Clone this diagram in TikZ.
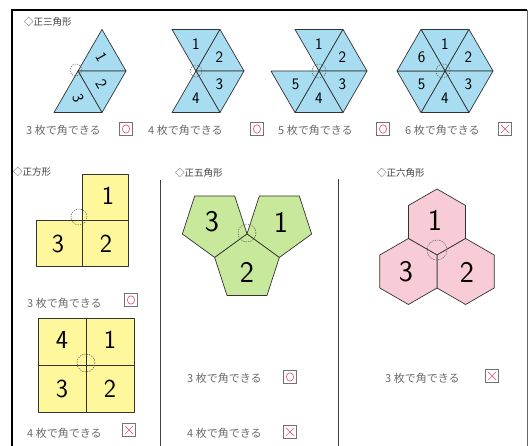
\documentclass[tikz,border=0pt]{standalone}
\usepackage{fontspec}
\newfontfamily\jp{Noto Sans CJK JP}
\usetikzlibrary{calc}
\definecolor{triblue}{HTML}{A8DCF0}
\definecolor{sqyellow}{HTML}{FFF79C}
\definecolor{pentgreen}{HTML}{C8E89C}
\definecolor{hexpink}{HTML}{F8CCD6}
\definecolor{capgray}{HTML}{6A6A6A}
\definecolor{markred}{HTML}{E0607A}
\newcommand\tritile[5]{% name, cx, cy, sector, label
  \filldraw[tile, fill=triblue] (#2,#3) -- ++({60*#4}:48) -- ++({60*#4+120}:48) -- cycle;
  \node[trinum] (#1) at ($(#2,#3)+({60*#4+30}:27)$) {#5};}
\newcommand\okmark[1]{\draw[markpen] (#1.center) circle[x radius=3.6, y radius=4.2];}
\newcommand\ngmark[1]{\draw[markpen] ($(#1.center)+(-4,-4)$) -- ($(#1.center)+(4,4)$) ($(#1.center)+(-4,4)$) -- ($(#1.center)+(4,-4)$);}
\begin{document}
\begin{tikzpicture}[x=1pt,y=1pt,
  tile/.style={draw=black!80, line width=0.7pt, line join=round},
  trinum/.style={font=\sffamily\fontsize{16}{16}\selectfont, inner sep=0},
  bignum/.style={font=\sffamily\fontsize{30}{30}\selectfont, inner sep=0},
  sqnum/.style={font=\sffamily\fontsize{26}{26}\selectfont, inner sep=0},
  head/.style={font=\jp\fontsize{9.5}{9.5}\selectfont, text=black!75, anchor=west, inner sep=0},
  captext/.style={font=\jp\fontsize{11}{11}\selectfont, text=capgray, anchor=west, inner sep=0},
  markbox/.style={draw=black!55, line width=0.6pt, minimum size=13pt, inner sep=0},
  markpen/.style={draw=markred, line width=0.7pt},
  vertexring/.style={draw=black!70, dashed, line width=0.5pt, dash pattern=on 1.2pt off 1.2pt},
  divider/.style={draw=black!75, line width=0.8pt}]
\useasboundingbox (0,0) rectangle (530,446);
\fill[white] (0,0) rectangle (530,446);
% frame
\draw[line width=1.5pt] (12,0) -- (12,436) -- (527,436);
\draw[black!60, line width=1pt] (527,436) -- (527,0);
\draw[divider] (160,0) -- (160,266);
\draw[divider] (338,0) -- (338,267);

% headers
\node[head] (h1) at (24,424) {◇正三角形};
\node[head] (h2) at (13,274) {◇正方形};
\node[head] (h3) at (175,273) {◇正五角形};
\node[head] (h4) at (377,273) {◇正六角形};

% ---------- triangles ----------
\filldraw[tile, fill=triblue] (78,375) -- ++(0:48) -- ++(120:48) -- cycle;
\filldraw[tile, fill=triblue] (78,375) -- ++(300:48) -- ++(60:48) -- cycle;
\filldraw[tile, fill=triblue] (78,375) -- ++(240:48) -- ++(0:48) -- cycle;
\node[trinum, rotate=-60] (a1) at ($(78,375)+(30:27)$) {1};
\node[trinum, rotate=-60] (a2) at ($(78,375)+(330:27)$) {2};
\node[trinum, rotate=-70] (a3) at ($(78,375)+(270:27)$) {3};
\draw[vertexring] (76,376) circle[radius=6];

\tritile{b1}{196}{375}{1}{1}
\tritile{b2}{196}{375}{0}{2}
\tritile{b3}{196}{375}{5}{3}
\tritile{b4}{196}{375}{4}{4}
\draw[vertexring] (196,375) circle[radius=6];

\tritile{c1}{319}{375}{1}{1}
\tritile{c2}{319}{375}{0}{2}
\tritile{c3}{319}{375}{5}{3}
\tritile{c4}{319}{375}{4}{4}
\tritile{c5}{319}{375}{3}{5}
\draw[vertexring] (319,375) circle[radius=7];

\tritile{d1}{445}{375}{1}{1}
\tritile{d2}{445}{375}{0}{2}
\tritile{d3}{445}{375}{5}{3}
\tritile{d4}{445}{375}{4}{4}
\tritile{d5}{445}{375}{3}{5}
\tritile{d6}{445}{375}{2}{6}
\draw[vertexring] (443,375) circle[radius=7];

% triangle captions
\node[captext] (ct1) at (26,316) {3 枚で角できる};
\node[markbox] (mt1) at (126,317) {}; \okmark{mt1}
\node[captext] (ct2) at (148,316) {4 枚で角できる};
\node[markbox] (mt2) at (257,317) {}; \okmark{mt2}
\node[captext] (ct3) at (278,316) {5 枚で角できる};
\node[markbox] (mt3) at (383,317) {}; \okmark{mt3}
\node[captext] (ct4) at (405,316) {6 枚で角できる};
\node[markbox] (mt4) at (505,317) {}; \ngmark{mt4}

% ---------- squares ----------
\filldraw[tile, fill=sqyellow] (82,226) rectangle (128,272);
\filldraw[tile, fill=sqyellow] (82,180) rectangle (128,226);
\filldraw[tile, fill=sqyellow] (36,180) rectangle (82,226);
\node[sqnum] (s1) at (108,250) {1};
\node[sqnum] (s2) at (106,202) {2};
\node[sqnum] (s3) at (58,202) {3};
\draw[vertexring] (79,229) circle[radius=8];

\node[captext] (cs1) at (27,143) {3 枚で角できる};
\node[markbox] (ms1) at (131,146) {}; \okmark{ms1}

\filldraw[tile, fill=sqyellow] (38,81) rectangle (86,128);
\filldraw[tile, fill=sqyellow] (86,81) rectangle (134,128);
\filldraw[tile, fill=sqyellow] (38,34) rectangle (86,81);
\filldraw[tile, fill=sqyellow] (86,34) rectangle (134,81);
\node[sqnum] (q4) at (62,106) {4};
\node[sqnum] (q1) at (110,106) {1};
\node[sqnum] (q3) at (62,57) {3};
\node[sqnum] (q2) at (110,57) {2};
\draw[vertexring] (86,83) circle[radius=9];

\node[captext] (cs2) at (27,13) {4 枚で角できる};
\node[markbox] (ms2) at (129,16) {}; \ngmark{ms2}

% ---------- pentagons ----------
\filldraw[tile, fill=pentgreen] ($(279.3,222.5)+(54:34)$) -- ($(279.3,222.5)+(126:34)$) -- ($(279.3,222.5)+(198:34)$) -- ($(279.3,222.5)+(270:34)$) -- ($(279.3,222.5)+(342:34)$) -- cycle;
\filldraw[tile, fill=pentgreen] ($(214.7,222.5)+(54:34)$) -- ($(214.7,222.5)+(126:34)$) -- ($(214.7,222.5)+(198:34)$) -- ($(214.7,222.5)+(270:34)$) -- ($(214.7,222.5)+(342:34)$) -- cycle;
\filldraw[tile, fill=pentgreen] ($(247,178)+(18:34)$) -- ($(247,178)+(90:34)$) -- ($(247,178)+(162:34)$) -- ($(247,178)+(234:34)$) -- ($(247,178)+(306:34)$) -- cycle;
\node[bignum] (p1) at (281,224) {1};
\node[bignum] (p3) at (212,224) {3};
\node[bignum] (p2) at (247,174) {2};
\draw[vertexring] (247,213) circle[radius=9];

\node[captext] (cp1) at (187,68) {3 枚で角できる};
\node[markbox] (mp1) at (290,69) {}; \okmark{mp1}
\node[captext] (cp2) at (187,13) {4 枚で角できる};
\node[markbox] (mp2) at (290,14) {}; \ngmark{mp2}

% ---------- hexagons ----------
\foreach \cx/\cy in {437/224, 465.6/174.5, 408.4/174.5}
  \filldraw[tile, fill=hexpink] ($(\cx,\cy)+(30:33)$) -- ($(\cx,\cy)+(90:33)$) -- ($(\cx,\cy)+(150:33)$) -- ($(\cx,\cy)+(210:33)$) -- ($(\cx,\cy)+(270:33)$) -- ($(\cx,\cy)+(330:33)$) -- cycle;
\node[bignum] (x1) at (435,226) {1};
\node[bignum] (x2) at (467,174) {2};
\node[bignum] (x3) at (406,174) {3};
\draw[vertexring] (437,196) circle[radius=10];

\node[captext] (cx1) at (385,68) {3 枚で角できる};
\node[markbox] (mx1) at (492,70) {}; \ngmark{mx1}
\end{tikzpicture}
\end{document}
